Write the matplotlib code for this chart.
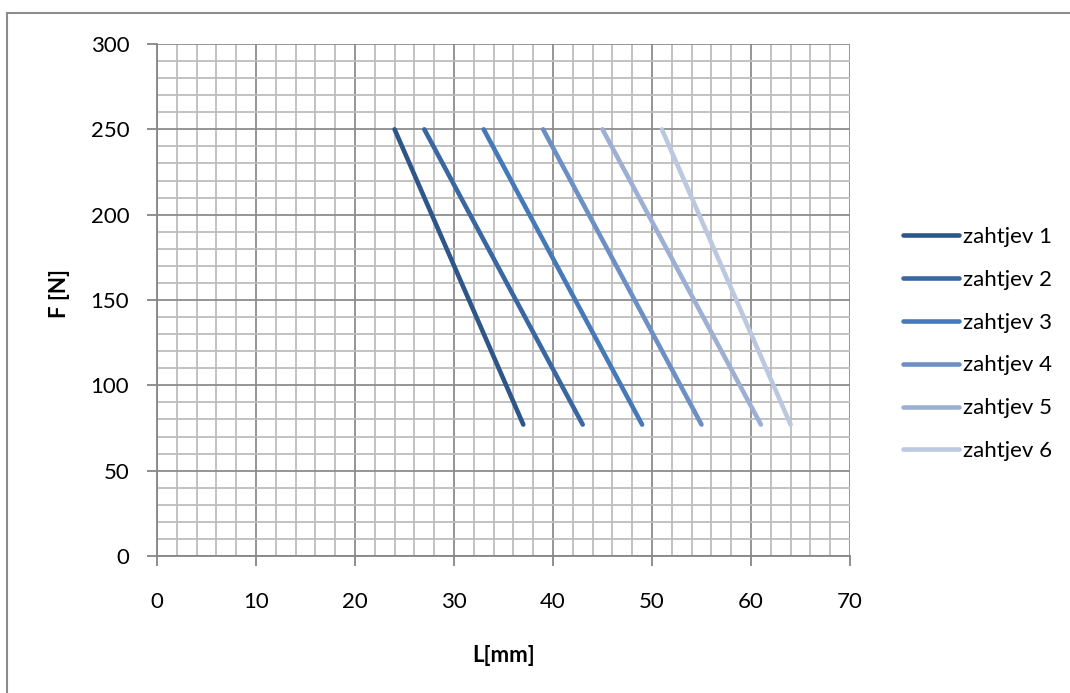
import matplotlib
matplotlib.use("Agg")
import matplotlib.pyplot as plt
from matplotlib.ticker import MultipleLocator
from matplotlib.patches import Rectangle

# Series data: force F [N] versus length L [mm]
series_names = ["zahtjev 1", "zahtjev 2", "zahtjev 3", "zahtjev 4", "zahtjev 5", "zahtjev 6"]
L_start = [24, 27, 33, 39, 45, 51]
L_end = [37, 43, 49, 55, 61, 64]
F_start = [250, 250, 250, 250, 250, 250]
F_end = [77, 77, 77, 77, 77, 77]
x_ticks = [0, 10, 20, 30, 40, 50, 60, 70]
y_ticks = [0, 50, 100, 150, 200, 250, 300]

colors = ["#2f5689", "#3a67a2", "#4679b9", "#6c8fc5", "#9db0d4", "#bcc8df"]

plt.rcParams["font.family"] = ["Lato", "DejaVu Sans"]

W, H = 1070, 693
fig = plt.figure(figsize=(W / 100, H / 100), dpi=100)
ax = fig.add_axes([157 / W, 1 - 556 / H, (850 - 157) / W, (556 - 44) / H])

for name, x0, x1, y0, y1, c in zip(series_names, L_start, L_end, F_start, F_end, colors):
    ax.plot([x0, x1], [y0, y1], color=c, lw=3.3, solid_capstyle="round", label=name)

ax.set_xlim(0, 70)
ax.set_ylim(0, 300)
ax.set_xticks(x_ticks)
ax.set_yticks(y_ticks)
ax.xaxis.set_minor_locator(MultipleLocator(2))
ax.yaxis.set_minor_locator(MultipleLocator(10))

ax.grid(which="major", color="#8c8c8c", lw=1.3, zorder=0)
ax.grid(which="minor", color="#bdbdbd", lw=1.3, zorder=0)
ax.set_axisbelow(True)

for s in ["top", "right"]:
    ax.spines[s].set_visible(False)
for s in ["left", "bottom"]:
    ax.spines[s].set_color("#868686")
    ax.spines[s].set_linewidth(1.3)

ax.tick_params(which="major", length=7, width=1.3, color="#868686",
               labelsize=16, pad=13, labelcolor="black")
ax.tick_params(axis="x", which="major", pad=19)
ax.tick_params(which="minor", length=0)

ax.set_xlabel("L[mm]", fontsize=16, fontweight="bold")
ax.set_ylabel("F [N]", fontsize=16, fontweight="bold")
ax.xaxis.set_label_coords(0.5, -(655 - 556) / 512, transform=ax.transAxes)
ax.yaxis.set_label_coords(-(157 - 60) / 693, (556 - 294) / 512, transform=ax.transAxes)
ax.xaxis.label.set_va("center")
ax.yaxis.label.set_va("center")

leg = ax.legend(loc="center left", bbox_to_anchor=((883 - 157) / 693, (556 - 344) / 512),
                frameon=False, fontsize=16, handlelength=2.5, handletextpad=0.2,
                labelspacing=1.03)

fig.patches.append(Rectangle((7 / W, -0.01), 1.02, 1 - 13 / H + 0.01, transform=fig.transFigure,
                             fill=False, edgecolor="#8c8c8c", lw=1.5))

fig.savefig("out.png", dpi=100)
